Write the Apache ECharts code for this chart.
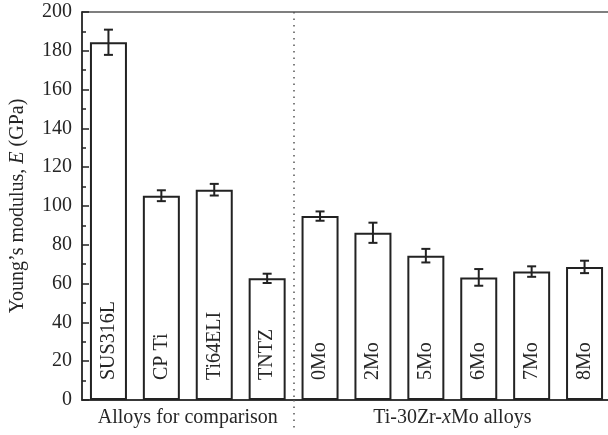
<!DOCTYPE html>
<html>
<head>
<meta charset="utf-8">
<script src="https://cdn.jsdelivr.net/npm/echarts@6/dist/echarts.min.js"></script>
<style>html,body{margin:0;padding:0;background:#fff}#c{width:608px;height:435px}</style>
</head>
<body>
<div id="c"></div>
<script>
var categories = ['SUS316L', 'CP Ti', 'Ti64ELI', 'TNTZ', '0Mo', '2Mo', '5Mo', '6Mo', '7Mo', '8Mo'];
var modulus = [184.4, 105.3, 108.4, 62.7, 94.8, 86.2, 74.4, 63.2, 66.2, 68.6];
var errors = [6.5, 2.8, 3.0, 2.4, 2.4, 5.2, 3.5, 4.3, 2.7, 3.2];
var groupNames = ['Alloys for comparison', 'Ti-30Zr-{i|x}Mo alloys'];
var groupCenters = [2, 7];
var groupSplit = [4];
var yTicks = { min: 0, max: 200, interval: 20 };

var FONT = '"Liberation Serif", "DejaVu Serif", serif';
var TXT = '#262626';

var errData = modulus.map(function (v, i) { return [i, v - errors[i], v + errors[i]]; });

var chart = echarts.init(document.getElementById('c'), null, { renderer: 'canvas' });
chart.setOption({
  animation: false,
  backgroundColor: '#fff',
  grid: { left: 82, top: 12, width: 529, height: 388, outerBoundsMode: 'none', containLabel: false, show: true, borderColor: '#555', borderWidth: 1.5, backgroundColor: 'transparent' },
  xAxis: [{
    type: 'category',
    data: categories,
    boundaryGap: true,
    axisLine: { show: true, lineStyle: { color: '#222', width: 1.5 } },
    axisTick: { show: false },
    axisLabel: { show: false },
    splitLine: { show: false }
  }, {
    type: 'value',
    min: 0, max: 10,
    position: 'bottom',
    axisLine: { show: false },
    axisTick: { show: true, customValues: groupSplit, length: 30, lineStyle: { color: '#555', width: 1.5, type: [1.5, 5] } },
    splitLine: { show: true, customValues: groupSplit, lineStyle: { color: '#555', width: 1.5, type: [1.5, 5] } },
    axisLabel: {
      show: true, customValues: groupCenters, margin: 8,
      fontFamily: FONT, fontSize: 20, color: TXT,
      formatter: function (v) { return groupNames[groupCenters.indexOf(v)] || ''; },
      rich: { i: { fontFamily: FONT, fontSize: 20, fontStyle: 'italic', color: TXT } }
    }
  }],
  yAxis: {
    type: 'value',
    min: yTicks.min, max: yTicks.max, interval: yTicks.interval,
    name: 'Young’s modulus, {i|E} (GPa)',
    nameLocation: 'middle',
    nameGap: 54,
    nameRotate: 90,
    nameTextStyle: { fontFamily: FONT, fontSize: 20, color: TXT, rich: { i: { fontFamily: FONT, fontSize: 20, fontStyle: 'italic', color: TXT } } },
    axisLine: { show: true, lineStyle: { color: '#222', width: 1.5 } },
    axisTick: { show: true, inside: true, length: 7, lineStyle: { color: '#222', width: 1.5 } },
    minorTick: { show: true, splitNumber: 2, length: 4, lineStyle: { color: '#222', width: 1.5 } },
    axisLabel: { fontFamily: FONT, fontSize: 20, color: TXT, margin: 10 },
    splitLine: { show: false }
  },
  series: [{
    type: 'bar',
    data: modulus,
    barWidth: 37,
    itemStyle: { color: '#fff', borderColor: '#222', borderWidth: 2 },
    label: {
      show: true,
      position: 'insideBottom',
      distance: 20,
      rotate: 90,
      align: 'left',
      verticalAlign: 'middle',
      fontFamily: FONT, fontSize: 20, color: TXT,
      formatter: function (p) { return categories[p.dataIndex]; }
    }
  }, {
    type: 'custom',
    data: errData,
    z: 5,
    renderItem: function (params, api) {
      var x = api.value(0);
      var lo = api.coord([x, api.value(1)]);
      var hi = api.coord([x, api.value(2)]);
      var w = 4.5;
      var st = { stroke: '#222', lineWidth: 2, fill: null };
      return {
        type: 'group',
        children: [
          { type: 'line', shape: { x1: lo[0], y1: lo[1], x2: hi[0], y2: hi[1] }, style: st },
          { type: 'line', shape: { x1: lo[0] - w, y1: lo[1], x2: lo[0] + w, y2: lo[1] }, style: st },
          { type: 'line', shape: { x1: hi[0] - w, y1: hi[1], x2: hi[0] + w, y2: hi[1] }, style: st }
        ]
      };
    }
  }]
});
</script>
</body>
</html>
